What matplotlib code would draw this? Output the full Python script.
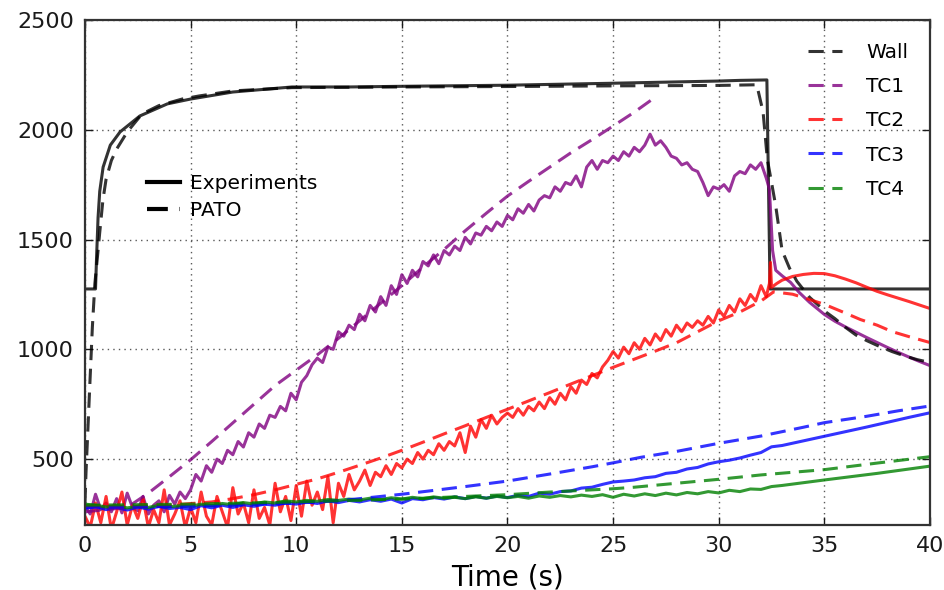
import numpy as np
import matplotlib
matplotlib.use('Agg')
import matplotlib.pyplot as plt
from matplotlib.lines import Line2D

# ---- measured thermocouple records (0.25 s sampling for TC1/TC2, 0.5 s for TC3/TC4)
t_fast = np.arange(0, 32.5, 0.25)
t_slow = np.arange(0, 33.0, 0.5)

tc1_exp = [
    285, 250, 340, 270, 300, 260, 320, 255, 345, 280,
    265, 330, 250, 290, 310, 260, 335, 295, 350, 320,
    360, 430, 400, 470, 440, 500, 480, 540, 520, 580,
    555, 620, 600, 660, 640, 700, 690, 740, 720, 800,
    770, 850, 880, 930, 960, 940, 1010, 1000, 1080, 1060,
    1110, 1090, 1160, 1130, 1200, 1170, 1240, 1200, 1290, 1250,
    1340, 1300, 1360, 1330, 1400, 1380, 1430, 1390, 1450, 1430,
    1470, 1450, 1510, 1480, 1530, 1520, 1560, 1540, 1580, 1560,
    1610, 1590, 1640, 1620, 1660, 1630, 1680, 1700, 1690, 1740,
    1720, 1760, 1750, 1790, 1740, 1830, 1860, 1820, 1860, 1850,
    1880, 1860, 1900, 1880, 1920, 1900, 1930, 1980, 1930, 1950,
    1920, 1880, 1870, 1840, 1850, 1820, 1810, 1760, 1700, 1740,
    1730, 1750, 1720, 1790, 1810, 1800, 1840, 1820, 1850, 1780,
]
tc1_tail_t = [32.4, 32.55, 32.7, 33.0, 33.4, 33.8, 34.3, 35.0, 35.5, 36.0,
              36.5, 37.0, 37.5, 38.0, 38.5, 39.0, 39.5, 40.0]
tc1_tail = [1730, 1450, 1360, 1335, 1305, 1260, 1214, 1159, 1128, 1102,
            1078, 1054, 1031, 1008, 986, 965, 945, 926]

tc2_exp = [
    240, 190, 300, 210, 330, 180, 260, 350, 200, 290,
    230, 320, 190, 270, 210, 360, 200, 250, 310, 190,
    280, 210, 350, 240, 200, 330, 260, 190, 370, 250,
    300, 210, 360, 230, 280, 200, 390, 260, 330, 220,
    380, 240, 400, 290, 350, 270, 420, 210, 390, 330,
    430, 360, 400, 450, 380, 440, 420, 470, 430, 480,
    460, 500, 480, 530, 500, 540, 520, 570, 540, 580,
    560, 620, 530, 650, 600, 680, 640, 700, 660, 690,
    710, 690, 730, 700, 740, 720, 760, 730, 780, 750,
    800, 770, 830, 800, 860, 840, 890, 870, 920, 950,
    990, 960, 1010, 980, 1030, 1000, 1050, 1020, 1070, 1040,
    1090, 1060, 1110, 1080, 1120, 1100, 1130, 1110, 1150, 1120,
    1180, 1150, 1200, 1170, 1230, 1200, 1250, 1220, 1290, 1240,
]
tc2_tail_t = [32.4, 32.45, 32.5, 32.75, 33.0, 33.5, 34.0, 34.5, 35.0, 35.5,
              36.0, 36.5, 37.0, 37.5, 38.0, 38.5, 39.0, 39.5, 40.0]
tc2_tail = [1300, 1396, 1282, 1300, 1315, 1332, 1341, 1346, 1345, 1335,
            1320, 1303, 1283, 1264, 1248, 1233, 1218, 1202, 1186]

tc3_exp = [
    275, 285, 270, 280, 268, 282, 272, 285, 275, 280,
    270, 288, 278, 290, 280, 292, 285, 295, 290, 300,
    295, 305, 298, 310, 302, 312, 305, 315, 308, 318,
    300, 320, 315, 325, 318, 328, 320, 330, 322, 332,
    325, 335, 330, 345, 340, 352, 355, 368, 372, 385,
    396, 400, 405, 415, 420, 435, 440, 455, 462, 478,
    488, 495, 505, 518, 530, 556,
]
tc3_tail_t = [33, 35, 37, 39, 40]
tc3_tail = [562, 604, 646, 690, 711]

tc4_exp = [
    295, 290, 282, 288, 278, 285, 280, 290, 283, 288,
    285, 295, 288, 298, 292, 302, 296, 305, 300, 310,
    305, 312, 308, 316, 312, 318, 314, 322, 316, 324,
    318, 326, 320, 328, 322, 326, 320, 328, 322, 330,
    324, 330, 322, 332, 326, 334, 328, 336, 330, 338,
    326, 340, 332, 342, 334, 345, 337, 348, 342, 352,
    346, 358, 352, 364, 362, 375,
]
tc4_tail_t = [33, 35, 37.5, 40]
tc4_tail = [380, 405, 435, 468]

# wall temperature, measured
wall_t = [0, 0.5, 0.55, 0.62, 0.7, 0.86, 1.2, 1.66, 2.6, 3.9, 5, 7, 9.8,
          12.5, 15, 20, 25, 28, 30, 31, 32.28, 32.43, 40]
wall_exp = [1275, 1275, 1420, 1600, 1720, 1830, 1930, 1990, 2063, 2118, 2140,
            2172, 2195, 2195, 2198, 2203, 2212, 2218, 2222, 2225, 2227, 1275, 1275]

# ---- PATO simulations
wall_pato_t = [0, 0.05, 0.15, 0.24, 0.35, 0.47, 0.6, 0.7, 0.85, 1.0, 1.25, 1.5,
               2.0, 2.7, 3.5, 4.6, 5.4, 7, 9.8, 15, 20, 25, 30, 31.8, 32.1, 32.3,
               32.5, 32.7, 33.0, 33.35, 33.7, 34.3, 35.1, 35.5, 36.0, 36.5, 37.0,
               37.5, 38.2, 38.8, 39.4, 40]
wall_pato = [300, 440, 660, 860, 1100, 1300, 1430, 1533, 1680, 1775, 1860, 1912,
             1990, 2072, 2110, 2140, 2154, 2177, 2192, 2195, 2197, 2200, 2202,
             2205, 2081, 1866, 1760, 1652, 1450, 1370, 1310, 1237, 1168, 1140,
             1100, 1065, 1040, 1018, 990, 970, 953, 940]

tc1_pato_t = [0, 2, 3, 4, 5, 6, 7, 8, 9, 10, 11, 12, 13, 14, 15, 16, 17, 18, 19,
              20, 21, 22, 23, 24, 25, 26, 26.8]
tc1_pato = [260, 280, 345, 420, 497, 580, 665, 750, 835, 905, 975, 1050, 1130,
            1210, 1290, 1375, 1455, 1540, 1620, 1698, 1765, 1830, 1895, 1955,
            2017, 2080, 2135]

tc2_pato_t = [0, 2, 4, 6, 7, 8, 9, 10, 11, 12, 13, 14, 15, 16, 17, 18, 19, 20, 21,
              22, 23, 24, 25, 26, 27, 28, 29, 30, 31, 32, 32.6, 33.5, 34.2, 35,
              36, 36.7, 37.5, 38.2, 39, 40]
tc2_pato = [285, 285, 290, 305, 320, 338, 360, 385, 410, 440, 472, 505, 540, 577,
            615, 652, 690, 727, 765, 803, 842, 880, 918, 955, 992, 1030, 1080,
            1130, 1170, 1220, 1262, 1251, 1230, 1205, 1165, 1136, 1110, 1081,
            1058, 1031]

tc3_pato_t = [0, 5, 10, 12, 14, 15, 16.3, 18, 20, 22, 24, 25, 26.3, 28, 30, 32,
              34, 35, 37, 38.5, 40]
tc3_pato = [280, 285, 300, 310, 330, 340, 355, 375, 400, 432, 465, 483, 508, 535,
            572, 605, 645, 666, 695, 720, 742]

tc4_pato_t = [0, 5, 10, 15, 20, 22, 25, 26, 28, 30, 32, 35, 37.5, 40]
tc4_pato = [290, 295, 305, 318, 338, 350, 365, 372, 390, 408, 428, 452, 482, 511]

names = ['Wall', 'TC1', 'TC2', 'TC3', 'TC4']
colors = ['k', 'purple', 'red', 'blue', 'green']

lw = 2.2
dash = (0, (5.0, 2.8))

fig = plt.figure(figsize=(9.45, 5.9), dpi=100)
ax = fig.add_axes([0.0899, 0.1102, 0.8942, 0.8559])

# experiments: solid
ax.plot(wall_t, wall_exp, color='k', alpha=0.8, lw=lw)
ax.plot(np.r_[t_fast, tc1_tail_t], np.r_[tc1_exp, tc1_tail], color='purple', alpha=0.8, lw=lw)
ax.plot(np.r_[t_fast, tc2_tail_t], np.r_[tc2_exp, tc2_tail], color='red', alpha=0.8, lw=lw)
ax.plot(np.r_[t_slow, tc3_tail_t], np.r_[tc3_exp, tc3_tail], color='blue', alpha=0.8, lw=lw)
ax.plot(np.r_[t_slow, tc4_tail_t], np.r_[tc4_exp, tc4_tail], color='green', alpha=0.8, lw=lw)

# PATO: dashed
pato = [(wall_pato_t, wall_pato), (tc1_pato_t, tc1_pato), (tc2_pato_t, tc2_pato),
        (tc3_pato_t, tc3_pato), (tc4_pato_t, tc4_pato)]
handles = []
for (tt, yy), c, n in zip(pato, colors, names):
    h, = ax.plot(tt, yy, color=c, alpha=0.8, lw=lw, linestyle=dash, label=n)
    handles.append(h)

ax.set_xlim(0, 40)
ax.set_ylim(200, 2500)
ax.set_yticks([500, 1000, 1500, 2000, 2500])
ax.set_xticks(range(0, 41, 5))
ax.grid(True, linestyle=(0, (1, 3)), color='0.35', lw=1)
ax.tick_params(direction='in', top=True, right=True, length=6, width=1,
               labelsize=16, pad=8, colors='0.1')
for s in ax.spines.values():
    s.set_linewidth(1.6)
    s.set_color('0.2')
ax.set_xlabel('Time (s)', fontsize=20, labelpad=5)

leg1 = ax.legend(handles=handles, loc='upper left', bbox_to_anchor=(0.856, 0.954),
                 frameon=False, fontsize=14.5, handlelength=1.65, handletextpad=1.24,
                 labelspacing=0.75, borderpad=0, borderaxespad=0)
ax.add_artist(leg1)

style_handles = [Line2D([], [], color='k', lw=3),
                 Line2D([], [], color='k', lw=3, linestyle=dash)]
ax.legend(handles=style_handles, labels=['Experiments', 'PATO'], loc='upper left',
          bbox_to_anchor=(0.0734, 0.695), frameon=False, fontsize=14.5,
          handlelength=1.65, handletextpad=0.5, labelspacing=0.38,
          borderpad=0, borderaxespad=0)

fig.savefig('out.png', dpi=100)
